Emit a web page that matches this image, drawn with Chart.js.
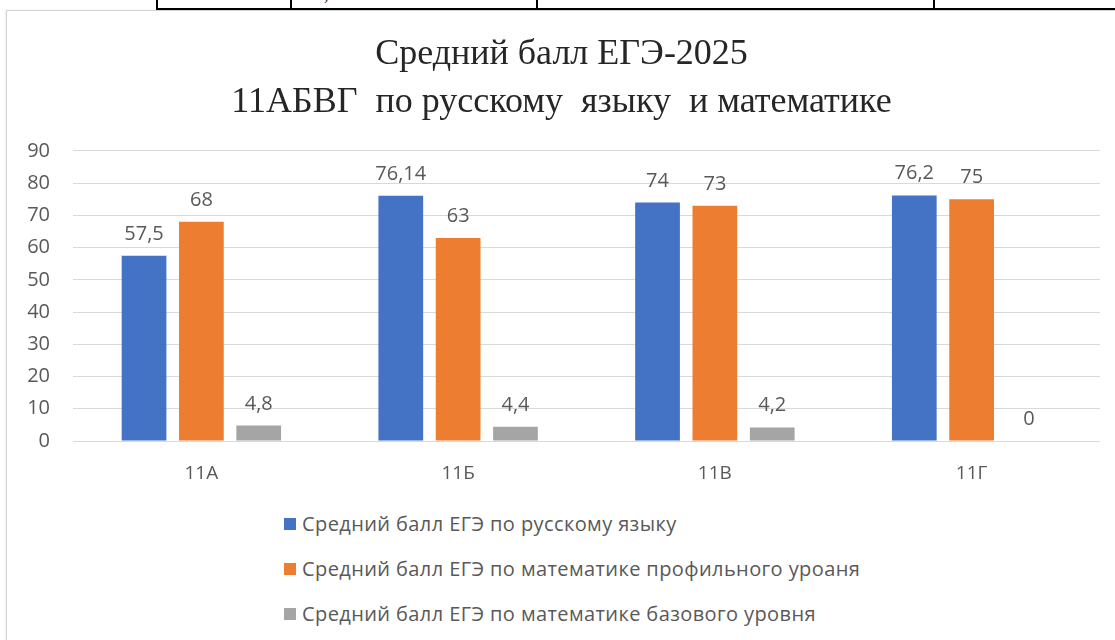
<!DOCTYPE html>
<html lang="ru">
  <head>
    <meta charset="UTF-8" />
    <title>Средний балл ЕГЭ-2025</title>
    <script src="https://cdn.jsdelivr.net/npm/chart.js@4"></script>
    <style>
      body {
        margin: 0;
        width: 1115px;
        height: 640px;
        overflow: hidden;
        background: #ffffff;
        position: relative;
        font-family: 'Open Sans', sans-serif;
      }

      #tableTop {
        position: absolute;
        left: 156px;
        top: -22px;
        border-collapse: collapse;
        table-layout: fixed;
        width: 1000px;
        font-family: 'Liberation Serif', serif;
        font-size: 18px;
      }

      #tableTop td {
        border: 2px solid #000;
        height: 24px;
        padding: 4px 0 0 14px;
        vertical-align: top;
        overflow: hidden;
      }

      #chartBox {
        position: absolute;
        left: 6px;
        top: 10px;
        width: 1120px;
        height: 640px;
        border: 1px solid #d4d4d4;
        box-shadow: 0 1px 3px rgba(0, 0, 0, 0.12);
        background: #fff;
      }

      #chartWrap {
        position: absolute;
        left: 0;
        top: 2px;
        width: 1109px;
        height: 478px;
      }

      #legend {
        position: absolute;
        left: 277px;
        top: 490px;
        list-style: none;
        margin: 0;
        padding: 0;
        color: #595959;
        font-size: 20px;
        letter-spacing: 0.4px;
      }

      #legend li {
        display: flex;
        align-items: center;
        height: 45px;
      }

      #legend span.box {
        display: inline-block;
        width: 12px;
        height: 12px;
        margin-right: 6px;
      }
    </style>
  </head>
  <body>
    <table id="tableTop">
      <colgroup>
        <col style="width: 134px" />
        <col style="width: 246px" />
        <col style="width: 397px" />
        <col style="width: 223px" />
      </colgroup>
      <tr>
        <td>11Б</td>
        <td>76,2</td>
        <td>75</td>
        <td></td>
      </tr>
    </table>

    <div id="chartBox">
      <div id="chartWrap"><canvas id="egeChart"></canvas></div>
      <ul id="legend"></ul>
    </div>

    <script>
      const classes = ['11А', '11Б', '11В', '11Г']
      const russianScores = [57.5, 76.14, 74, 76.2]
      const mathProfileScores = [68, 63, 73, 75]
      const mathBaseScores = [4.8, 4.4, 4.2, 0]
      const seriesNames = [
        'Средний балл ЕГЭ по русскому языку',
        'Средний балл ЕГЭ по математике профильного уроаня',
        'Средний балл ЕГЭ по математике базового уровня',
      ]
      const seriesColors = ['#4472C4', '#ED7D31', '#A5A5A5']
      const titleLines = ['Средний балл ЕГЭ-2025', '11АБВГ  по русскому  языку  и математике']

      const textGray = '#595959'
      const labelFont = '"Open Sans", sans-serif'

      // value labels above the bars, decimal comma like in the original
      const valueLabels = {
        id: 'valueLabels',
        afterDatasetsDraw(chart) {
          const ctx = chart.ctx
          ctx.save()
          ctx.font = '20px ' + labelFont
          ctx.fillStyle = textGray
          ctx.textAlign = 'center'
          ctx.textBaseline = 'alphabetic'
          chart.data.datasets.forEach((ds, i) => {
            chart.getDatasetMeta(i).data.forEach((bar, j) => {
              const text = String(ds.data[j]).replace('.', ',')
              ctx.fillText(text, bar.x, bar.y - 16)
            })
          })
          ctx.restore()
        },
      }

      const datasets = [russianScores, mathProfileScores, mathBaseScores].map(
        (data, i) => ({
          label: seriesNames[i],
          data: data,
          backgroundColor: seriesColors[i],
          categoryPercentage: 0.67,
          barPercentage: 0.78,
        })
      )

      const ctx = document.getElementById('egeChart').getContext('2d')
      const egeChart = new Chart(ctx, {
        type: 'bar',
        data: { labels: classes, datasets: datasets },
        options: {
          responsive: true,
          maintainAspectRatio: false,
          animation: false,
          layout: { padding: { left: 16, right: 16, bottom: 0 } },
          plugins: {
            legend: { display: false },
            tooltip: { enabled: false },
            title: {
              display: true,
              text: titleLines,
              color: '#262626',
              font: { family: '"Liberation Serif", serif', size: 36, weight: 'normal', lineHeight: 1.333 },
              padding: { top: 18, bottom: 24 },
            },
          },
          scales: {
            x: {
              grid: { display: false },
              border: { display: false },
              ticks: { color: textGray, font: { size: 19, family: labelFont }, padding: 13 },
              afterFit(scale) {
                scale.height = 50
              },
            },
            y: {
              min: 0,
              max: 90,
              border: { display: false },
              grid: { color: '#d9d9d9', drawTicks: false },
              ticks: { stepSize: 10, color: textGray, font: { size: 20, family: labelFont }, padding: 23 },
              afterFit(scale) {
                scale.width = 50
              },
            },
          },
        },
        plugins: [valueLabels],
      })

      const legend = document.getElementById('legend')
      seriesNames.forEach((name, i) => {
        const li = document.createElement('li')
        li.innerHTML = `<span class="box" style="background:${seriesColors[i]}"></span>${name}`
        legend.appendChild(li)
      })
    </script>
  </body>
</html>
